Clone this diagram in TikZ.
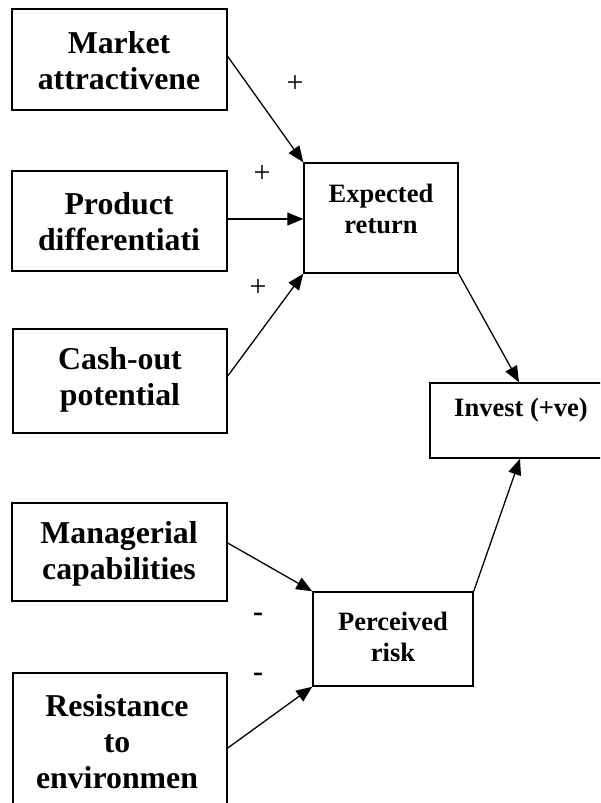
\documentclass[tikz,border=0pt]{standalone}
\usepackage{fontspec}
\setmainfont{Liberation Serif}
\usetikzlibrary{arrows.meta,calc}
\tikzset{
  box/.style={draw, line width=1.5pt, rectangle, inner sep=0pt},
  big/.style={align=center, font=\fontsize{31.8}{36}\selectfont\bfseries, inner sep=0pt},
  mid/.style={align=center, font=\fontsize{26.5}{30.5}\selectfont\bfseries, inner sep=0pt},
  sign/.style={font=\fontsize{30}{30}\selectfont, inner sep=0pt},
  negsign/.style={font=\fontsize{30}{30}\selectfont\bfseries, inner sep=0pt},
  conn/.style={line width=1.3pt, -{Triangle[length=16pt,width=13pt]}}
}
\begin{document}
\begin{tikzpicture}[x=1pt,y=-1pt]
\useasboundingbox (0,0) rectangle (600,803);
\clip (0,0) rectangle (600,803);
% boxes
\node[box, minimum width=215pt, minimum height=101pt] (mkt) at (119.5,59.5) {};
\node[box, minimum width=215pt, minimum height=100pt] (prd) at (119.5,221) {};
\node[box, minimum width=154pt, minimum height=110pt] (exp) at (381,218) {};
\node[box, minimum width=214pt, minimum height=104pt] (csh) at (120,381) {};
\node[box, minimum width=182pt, minimum height=75pt] (inv) at (521,420.5) {};
\node[box, minimum width=215pt, minimum height=98pt] (mgr) at (119.5,552) {};
\node[box, minimum width=160pt, minimum height=94pt] (per) at (393,639) {};
\node[box, minimum width=214pt, minimum height=146pt] (res) at (120,746) {};
% labels
\node[big] (mktT) at (119,61) {Market\\attractivene};
\node[big] (prdT) at (119,222) {Product\\differentiati};
\node[mid] (expT) at (381,209) {Expected\\return};
\node[big] (cshT) at (120,380) {Cash-out\\potential};
\node[mid] (invT) at (521,410) {Invest (+ve)};
\node[big] (mgrT) at (119,554) {Managerial\\capabilities};
\node[mid] (perT) at (393,637) {Perceived\\risk};
\node[big] (resT) at (117,742) {Resistance\\to\\environmen};
% signs
\node[sign] (s1) at (295,84) {+};
\node[sign] (s2) at (262,174) {+};
\node[sign] (s3) at (258,288) {+};
\node[negsign] (s4) at (258,617) {-};
\node[negsign] (s5) at (258,677) {-};
% connectors
\draw[conn] ([yshift=3pt]mkt.east) -- (exp.north west);
\draw[conn] ([yshift=2pt]prd.east) -- ([yshift=2pt]prd.east -| exp.west);
\draw[conn] ([yshift=5pt]csh.east) -- (exp.south west);
\draw[conn] (exp.south east) -- ([xshift=-2pt]inv.north);
\draw[conn] (per.north east) -- ([xshift=-1pt]inv.south);
\draw[conn] ([yshift=9pt]mgr.east) -- (per.north west);
\draw[conn] ([yshift=-2pt]res.east) -- (per.south west);
\end{tikzpicture}
\end{document}
